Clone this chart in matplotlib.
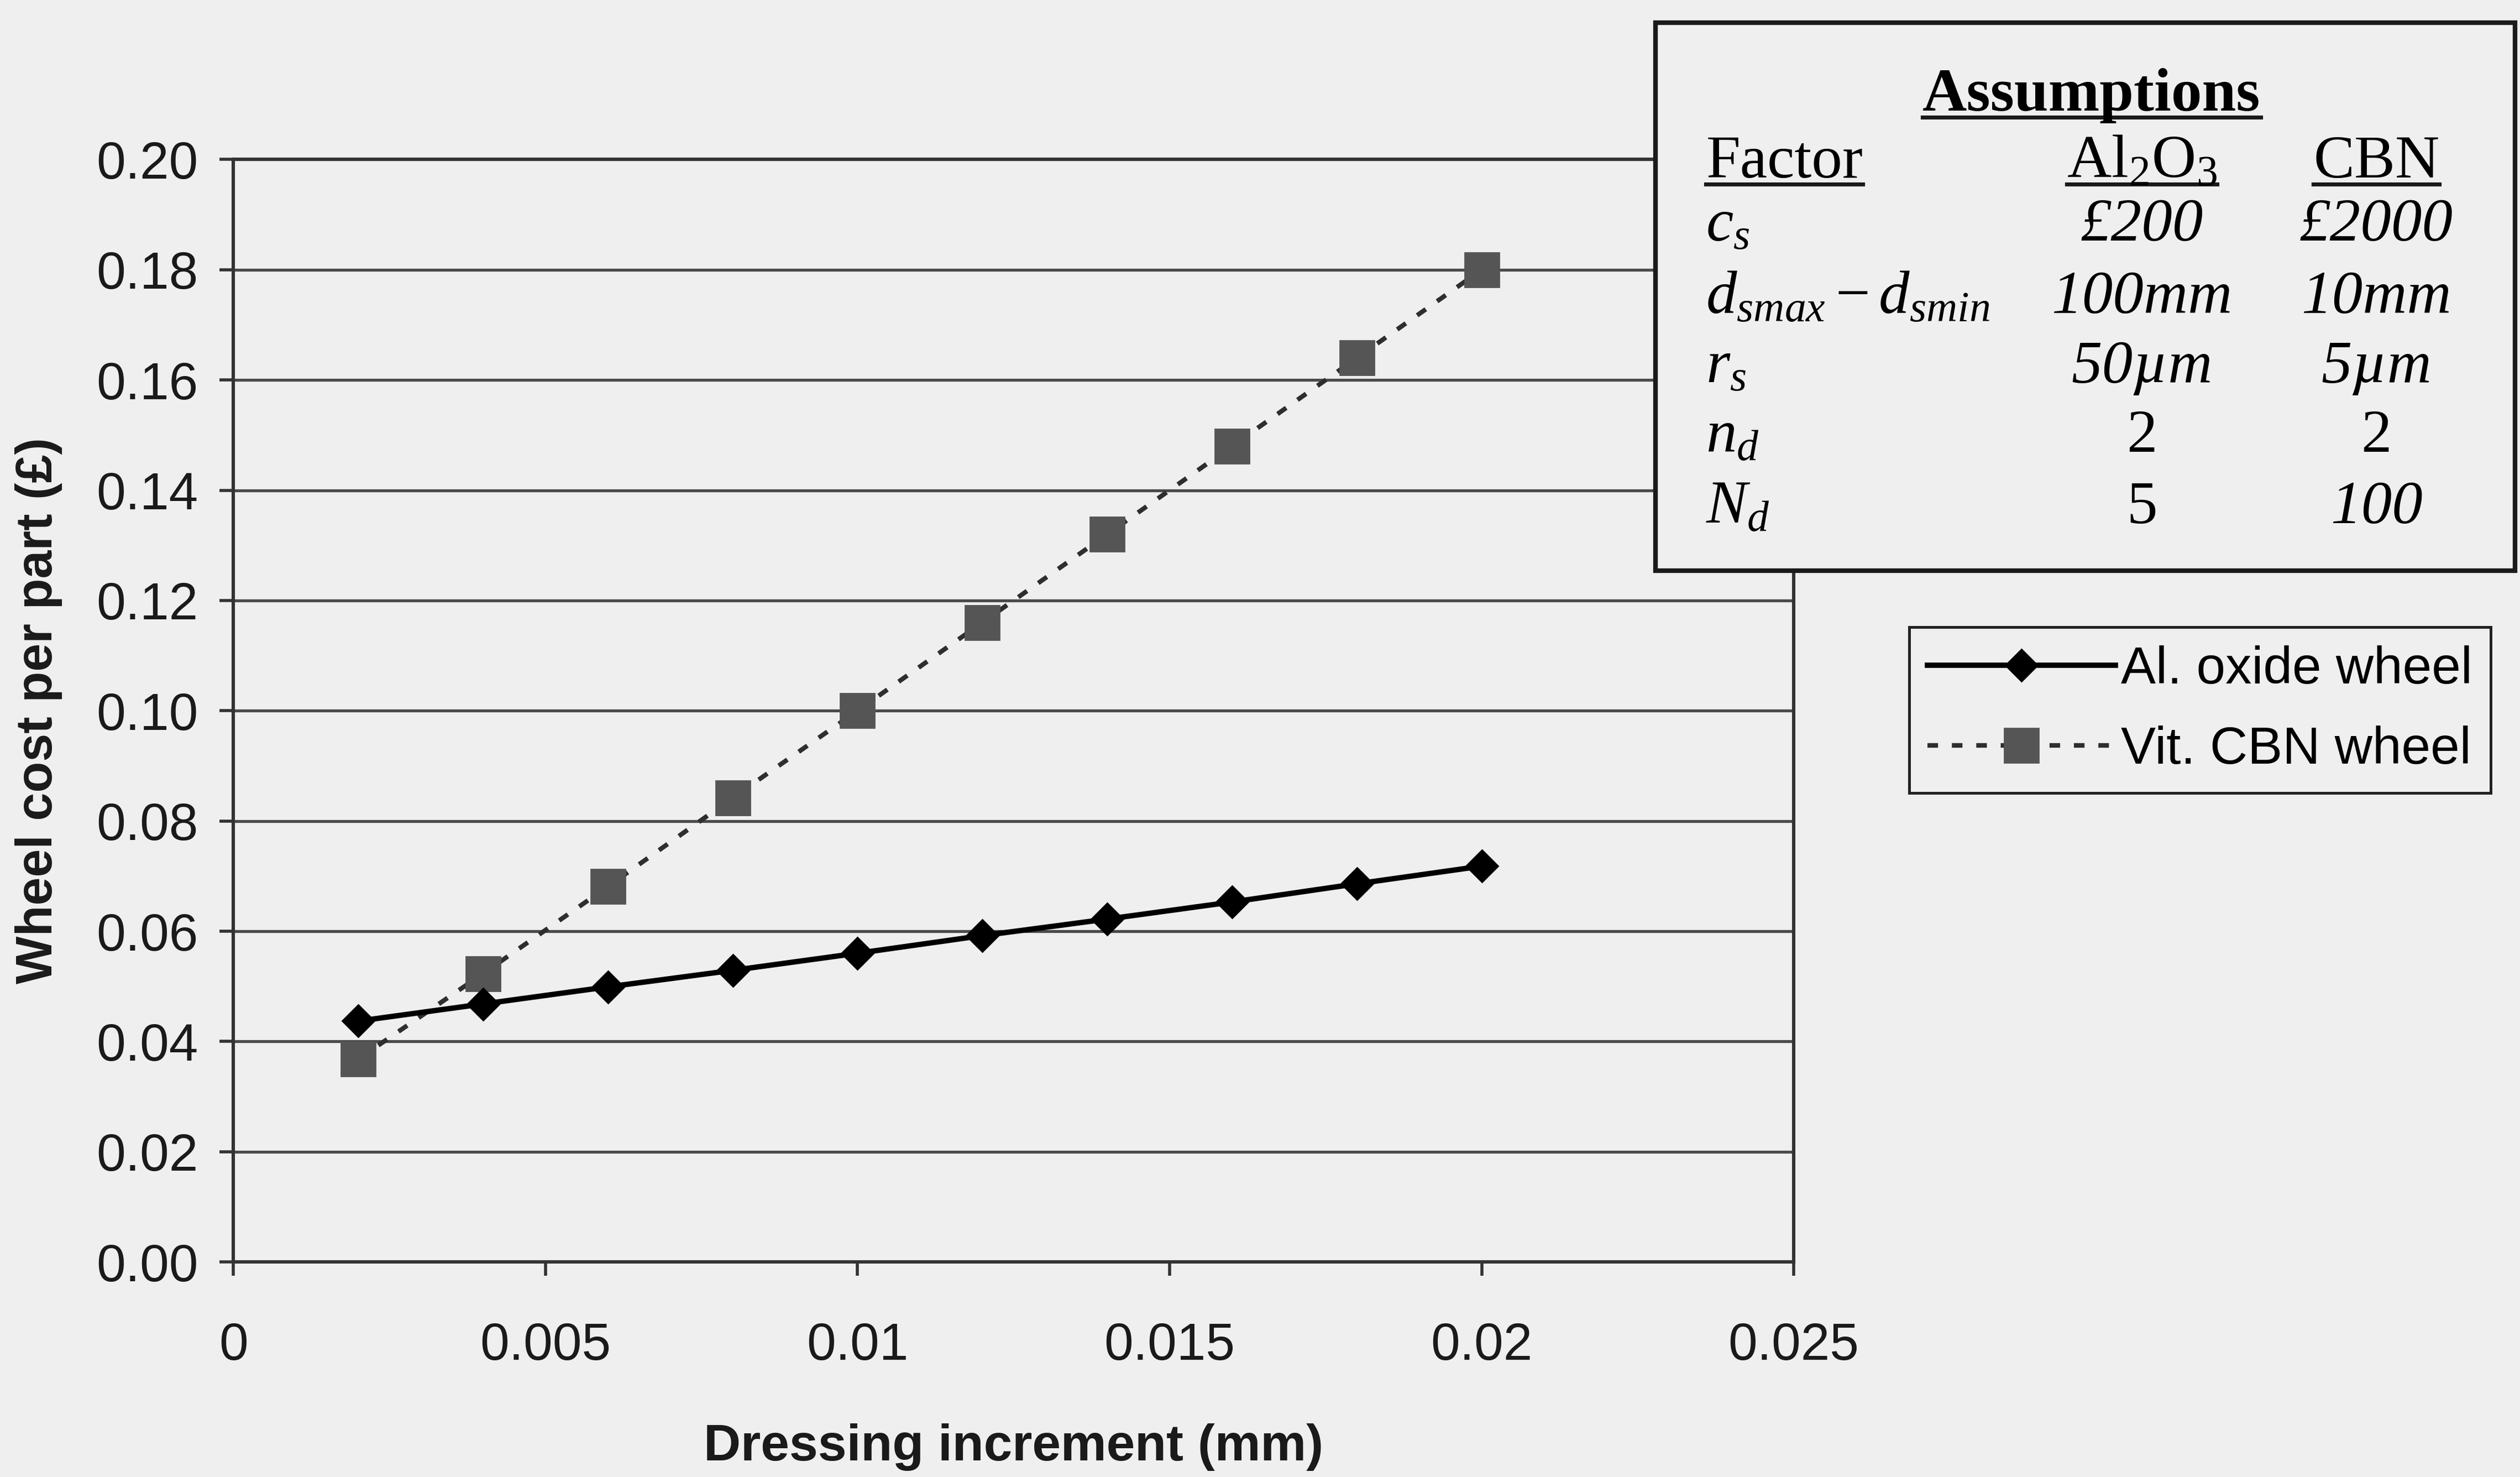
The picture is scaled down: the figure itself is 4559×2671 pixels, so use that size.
import matplotlib.pyplot as plt
from matplotlib.patches import Rectangle

# dressing increment (mm)
dressing_increment = [0.002, 0.004, 0.006, 0.008, 0.010, 0.012, 0.014, 0.016, 0.018, 0.020]
# wheel cost per part (GBP)
al_oxide_cost = [0.0437, 0.0468, 0.0499, 0.0529, 0.0560, 0.0592, 0.0622, 0.0653, 0.0686, 0.0718]
cbn_cost = [0.0368, 0.0523, 0.0681, 0.0842, 0.1000, 0.1160, 0.1320, 0.1480, 0.1640, 0.1800]

x_ticks = [0, 0.005, 0.01, 0.015, 0.02, 0.025]
x_tick_labels = ["0", "0.005", "0.01", "0.015", "0.02", "0.025"]
y_ticks = [0.00, 0.02, 0.04, 0.06, 0.08, 0.10, 0.12, 0.14, 0.16, 0.18, 0.20]

table_factors = [r"$c_s$", r"$d_{smax}-d_{smin}$", r"$r_s$", r"$n_d$", r"$N_d$"]
table_al2o3 = ["£200", "100mm", "50µm", "2", "5"]
table_cbn = ["£2000", "10mm", "5µm", "2", "100"]
al2o3_italic = [True, True, True, False, False]
cbn_italic = [True, True, True, False, True]

BG = "#efefef"
GRID = "#4a4a4a"

plt.rcParams["font.family"] = ["Liberation Sans", "DejaVu Sans"]
plt.rcParams["mathtext.fontset"] = "custom"
plt.rcParams["mathtext.rm"] = "Liberation Serif"
plt.rcParams["mathtext.it"] = "Liberation Serif:italic"
plt.rcParams["mathtext.bf"] = "Liberation Serif:bold"

fig = plt.figure(figsize=(22.795, 13.355), dpi=200, facecolor=BG)
ax = fig.add_axes([0.0926, 0.1456, 0.6192, 0.7464], facecolor=BG)

ax.plot(dressing_increment, al_oxide_cost, color="black", lw=3.5, marker="D",
        markersize=15, markerfacecolor="black", markeredgecolor="black",
        label="Al. oxide wheel", zorder=4)
ax.plot(dressing_increment, cbn_cost, color="#2e2e2e", lw=3.0, linestyle=(0, (2.3, 3.0)),
        marker="s", markersize=22, markerfacecolor="#555555", markeredgecolor="#555555",
        label="Vit. CBN wheel", zorder=3)

ax.set_xlim(0, 0.025)
ax.set_ylim(0, 0.20)
ax.set_xticks(x_ticks)
ax.set_xticklabels(x_tick_labels)
ax.set_yticks(y_ticks)
ax.set_yticklabels([f"{v:.2f}" for v in y_ticks])
ax.tick_params(axis="both", direction="out", length=9, width=2, color="#333333",
               labelsize=34, labelcolor="#1a1a1a")
ax.tick_params(axis="x", pad=30)
ax.tick_params(axis="y", pad=14)
ax.yaxis.grid(True, color=GRID, lw=1.9)
ax.set_axisbelow(True)
for side in ["left", "right", "top", "bottom"]:
    ax.spines[side].set_color("#333333")
    ax.spines[side].set_linewidth(2.2)

ax.set_xlabel("Dressing increment (mm)", fontsize=33.5, fontweight="bold", color="#1a1a1a",
              labelpad=34)
ax.set_ylabel("Wheel cost per part (£)", fontsize=33, fontweight="bold", color="#1a1a1a",
              labelpad=22)

leg = fig.legend(loc="upper left", bbox_to_anchor=(0.7577, 0.5756), fontsize=34,
                 frameon=True, fancybox=False, handlelength=3.6, handletextpad=0.1,
                 borderpad=0.35, labelspacing=0.6, borderaxespad=0)
leg.get_frame().set_edgecolor("#222222")
leg.get_frame().set_linewidth(1.8)
leg.get_frame().set_facecolor(BG)
leg.get_frame().set_alpha(1)

# assumptions box
box = Rectangle((0.657, 0.6137), 0.341, 0.371, transform=fig.transFigure,
                facecolor=BG, edgecolor="#1a1a1a", lw=3.0, zorder=10)
fig.add_artist(box)

serif = "Liberation Serif"
fs = 40
under = []
t = fig.text(0.830, 0.925, "Assumptions", ha="center", va="baseline", fontsize=fs,
             fontweight="bold", family=serif, zorder=11)
under.append(t)
row_y = [0.837, 0.788, 0.741, 0.694, 0.646]
t = fig.text(0.677, 0.880, "Factor", ha="left", va="baseline", fontsize=fs, family=serif, zorder=11)
under.append(t)
t = fig.text(0.850, 0.880, r"Al$_2$O$_3$", ha="center", va="baseline", fontsize=fs,
             family=serif, zorder=11)
under.append(t)
t = fig.text(0.943, 0.880, "CBN", ha="center", va="baseline", fontsize=fs, family=serif, zorder=11)
under.append(t)

for y, f, a, c, ai, ci in zip(row_y, table_factors, table_al2o3, table_cbn,
                              al2o3_italic, cbn_italic):
    fig.text(0.677, y, f, ha="left", va="baseline", fontsize=fs, family=serif, zorder=11)
    fig.text(0.850, y, a, ha="center", va="baseline", fontsize=fs, family=serif,
             style="italic" if ai else "normal", zorder=11)
    fig.text(0.943, y, c, ha="center", va="baseline", fontsize=fs, family=serif,
             style="italic" if ci else "normal", zorder=11)

renderer = fig.canvas.get_renderer()
inv = fig.transFigure.inverted()
for t in under:
    bb = t.get_window_extent(renderer).transformed(inv)
    base_px = fig.transFigure.transform((0, t.get_position()[1]))[1]
    yb = inv.transform((0, base_px - 12))[1]
    fig.add_artist(plt.Line2D([bb.x0, bb.x1], [yb, yb], transform=fig.transFigure,
                              color="#1a1a1a", lw=2.6, zorder=11))

fig.savefig("out.png", dpi=200, facecolor=BG)
